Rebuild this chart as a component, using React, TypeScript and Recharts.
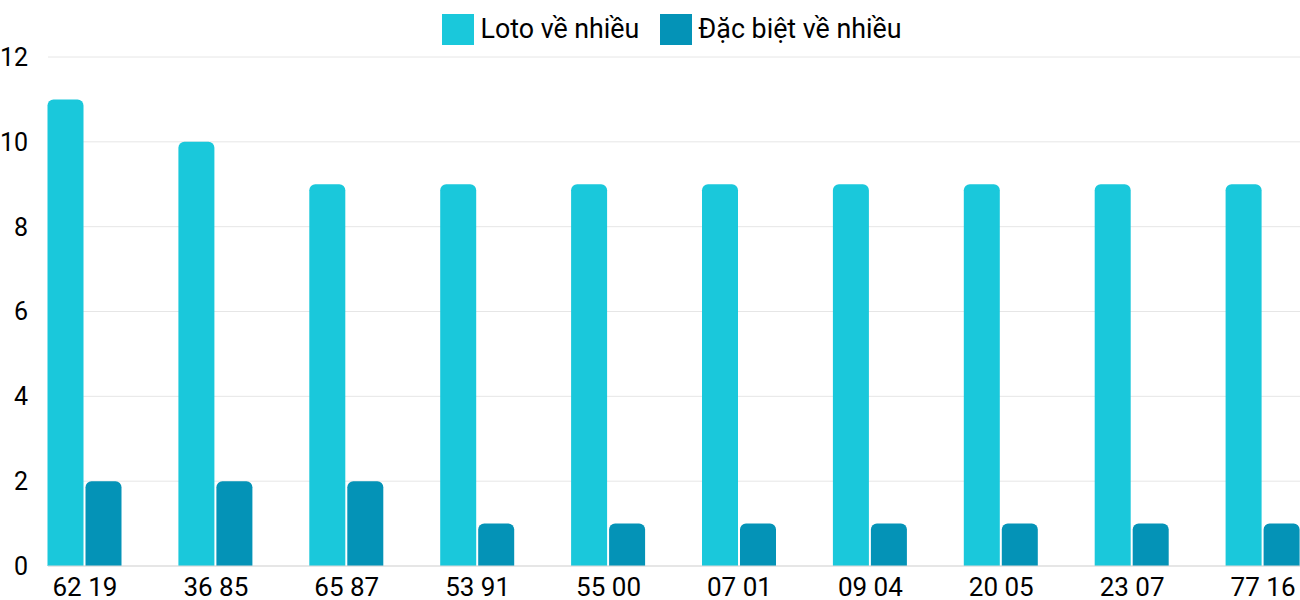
import { BarChart, Bar, XAxis, YAxis, CartesianGrid, Legend } from 'recharts'

const categories = ['62 19', '36 85', '65 87', '53 91', '55 00', '07 01', '09 04', '20 05', '23 07', '77 16']
const lotoValues = [11, 10, 9, 9, 9, 9, 9, 9, 9, 9]
const dacBietValues = [2, 2, 2, 1, 1, 1, 1, 1, 1, 1]
const yTicks = [0, 2, 4, 6, 8, 10, 12]

const LOTO_COLOR = '#1ac8db'
const DB_COLOR = '#0493b7'
const FONT = 'Roboto, "Noto Sans", sans-serif'

const data = categories.map((name, i) => ({
  name,
  loto: lotoValues[i],
  dacBiet: dacBietValues[i],
}))

function ChartLegend() {
  const items = [
    { label: 'Loto về nhiều', color: LOTO_COLOR },
    { label: 'Đặc biệt về nhiều', color: DB_COLOR },
  ]
  return (
    <div
      style={{
        height: 52,
        display: 'flex',
        justifyContent: 'center',
        alignItems: 'flex-start',
        paddingTop: 8,
        paddingLeft: 44,
        boxSizing: 'border-box',
        gap: 21,
        fontFamily: FONT,
        fontSize: 26.8,
        color: '#000',
      }}
    >
      {items.map((it) => (
        <div key={it.label} style={{ display: 'flex', alignItems: 'center', gap: 6, height: 32 }}>
          <span style={{ width: 32, height: 31, background: it.color, display: 'inline-block' }} />
          <span>{it.label}</span>
        </div>
      ))}
    </div>
  )
}

export default function App() {
  return (
    <div style={{ position: 'absolute', left: 0, top: 0 }}>
      <BarChart
        width={1300}
        height={600}
        data={data}
        margin={{ top: 5, right: 0, bottom: 0, left: 0 }}
        barGap={2}
        barSize={36}
      >
        <CartesianGrid vertical={false} stroke="#e6e6e6" />
        <XAxis
          dataKey="name"
          padding={{ left: -28.5, right: -28.5 }}
          tickLine={false}
          axisLine={{ stroke: '#d9d9d9' }}
          height={34}
          tickMargin={6}
          tick={{ fill: '#000', fontSize: 26, fontFamily: FONT }}
          interval={0}
        />
        <YAxis
          domain={[0, 12]}
          ticks={yTicks}
          width={48}
          axisLine={false}
          tickLine={false}
          tickMargin={14}
          tick={{ fill: '#000', fontSize: 25, fontFamily: FONT }}
        />
        <Legend verticalAlign="top" align="center" content={<ChartLegend />} />
        <Bar dataKey="loto" name="Loto về nhiều" fill={LOTO_COLOR} radius={[6, 6, 0, 0]} isAnimationActive={false} />
        <Bar dataKey="dacBiet" name="Đặc biệt về nhiều" fill={DB_COLOR} radius={[6, 6, 0, 0]} isAnimationActive={false} />
      </BarChart>
    </div>
  )
}
